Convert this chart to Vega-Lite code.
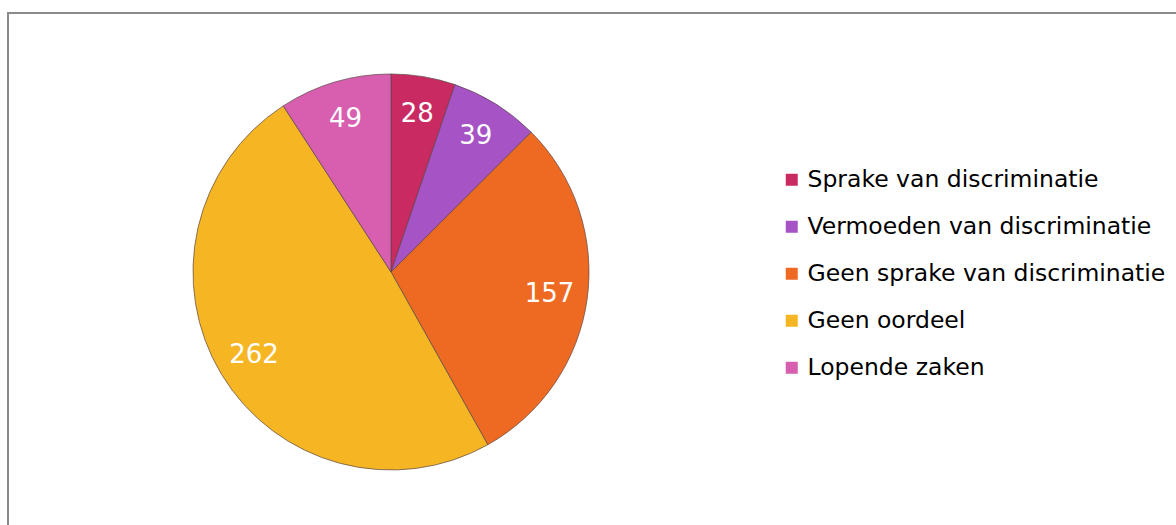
{
  "$schema": "https://vega.github.io/schema/vega-lite/v6.json",
  "width": 1200,
  "height": 540,
  "autosize": "none",
  "padding": {"left": 8, "top": 13, "right": 0, "bottom": 0},
  "background": "white",
  "view": {"stroke": "#8a8a8a", "strokeWidth": 2, "fill": "white"},
  "config": {
    "font": "DejaVu Sans"
  },
  "data": {
    "values": [
      {"categorie": "Sprake van discriminatie", "aantal": 28, "volgorde": 1},
      {"categorie": "Vermoeden van discriminatie", "aantal": 39, "volgorde": 2},
      {"categorie": "Geen sprake van discriminatie", "aantal": 157, "volgorde": 3},
      {"categorie": "Geen oordeel", "aantal": 262, "volgorde": 4},
      {"categorie": "Lopende zaken", "aantal": 49, "volgorde": 5}
    ]
  },
  "encoding": {
    "theta": {"field": "aantal", "type": "quantitative", "stack": true},
    "order": {"field": "volgorde", "type": "quantitative"}
  },
  "layer": [
    {
      "mark": {"type": "arc", "x": 383, "y": 259, "outerRadius": 198, "stroke": "#5b4646", "strokeWidth": 1, "strokeOpacity": 0.7},
      "encoding": {
        "color": {
          "field": "categorie",
          "type": "nominal",
          "sort": ["Sprake van discriminatie", "Vermoeden van discriminatie", "Geen sprake van discriminatie", "Geen oordeel", "Lopende zaken"],
          "scale": {
            "domain": ["Sprake van discriminatie", "Vermoeden van discriminatie", "Geen sprake van discriminatie", "Geen oordeel", "Lopende zaken"],
            "range": ["#C92A62", "#A653C6", "#EE6A22", "#F6B624", "#D85EAF"]
          },
          "legend": {
            "title": null,
            "orient": "none",
            "legendX": 772,
            "legendY": 155,
            "symbolType": "square",
            "symbolSize": 144,
            "symbolStrokeWidth": 0,
            "labelFont": "DejaVu Sans",
            "labelFontSize": 23.5,
            "labelColor": "#000000",
            "labelLimit": 500,
            "labelOffset": 4,
            "rowPadding": 22
          }
        }
      }
    },
    {
      "mark": {"type": "text", "x": 383, "y": 259, "radius": 160, "fontSize": 26, "color": "white", "font": "DejaVu Sans"},
      "encoding": {
        "text": {"field": "aantal", "type": "quantitative"}
      }
    }
  ]
}
